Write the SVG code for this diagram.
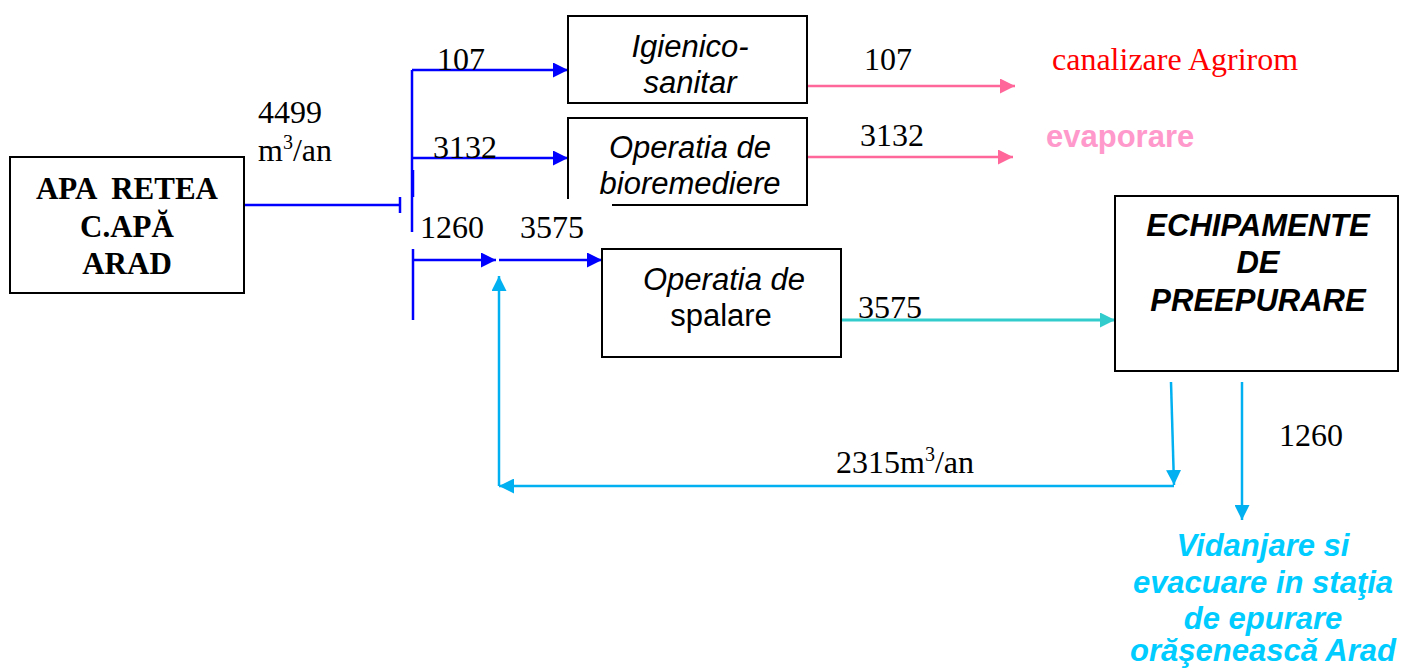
<svg xmlns="http://www.w3.org/2000/svg" width="1405" height="669" viewBox="0 0 1405 669">
  <style>
    .box { fill: #fff; stroke: #000; stroke-width: 2; }
    .num { font-family: "Liberation Serif", serif; font-size: 32px; fill: #000; }
    .sup { font-size: 20px; }
    .lbl { font-family: "Liberation Sans", Arial, sans-serif; font-size: 31px; font-style: italic; fill: #000; text-anchor: middle; }
    .up { font-style: normal; }
    .blue { stroke: #0000FF; stroke-width: 2.5; fill: none; }
    .cyan { stroke: #00B0F0; stroke-width: 2.5; fill: none; }
    .teal { stroke: #33CCCC; stroke-width: 3; fill: none; }
    .pink { stroke: #FF6699; stroke-width: 2.5; fill: none; }
  </style>
  <defs>
    <marker id="ab" viewBox="0 0 10 10" refX="10" refY="5" markerWidth="6" markerHeight="6" markerUnits="strokeWidth" orient="auto"><path d="M0,0 L10,5 L0,10 z" fill="#0000FF"/></marker>
    <marker id="ac" viewBox="0 0 10 10" refX="10" refY="5" markerWidth="6" markerHeight="6" markerUnits="strokeWidth" orient="auto"><path d="M0,0 L10,5 L0,10 z" fill="#00B0F0"/></marker>
    <marker id="at" viewBox="0 0 10 10" refX="10" refY="5" markerWidth="5" markerHeight="5" markerUnits="strokeWidth" orient="auto"><path d="M0,0 L10,5 L0,10 z" fill="#33CCCC"/></marker>
    <marker id="ap" viewBox="0 0 10 10" refX="10" refY="5" markerWidth="6" markerHeight="6" markerUnits="strokeWidth" orient="auto"><path d="M0,0 L10,5 L0,10 z" fill="#FF6699"/></marker>
  </defs>

  <g id="connectors">
    <!-- supply line into the splitter -->
    <line class="blue" x1="244" y1="205" x2="400" y2="205"/>
    <line class="blue" x1="400" y1="197" x2="400" y2="213"/>
    <line class="blue" x1="412" y1="70" x2="412" y2="232"/>
    <line class="blue" x1="413" y1="170" x2="413" y2="197"/>
    <line class="blue" x1="413" y1="249" x2="413" y2="320"/>
    <line class="blue" x1="412" y1="70" x2="568" y2="70" marker-end="url(#ab)"/>
    <line class="blue" x1="412" y1="158" x2="568" y2="158" marker-end="url(#ab)"/>
    <line class="blue" x1="413" y1="260" x2="496" y2="260" marker-end="url(#ab)"/>
    <line class="blue" x1="499" y1="260" x2="602" y2="260" marker-end="url(#ab)"/>
    <!-- outputs -->
    <line class="pink" x1="807" y1="86" x2="1015" y2="86" marker-end="url(#ap)"/>
    <line class="pink" x1="807" y1="157" x2="1013" y2="157" marker-end="url(#ap)"/>
    <line class="teal" x1="842" y1="320" x2="1115" y2="320" marker-end="url(#at)"/>
    <!-- recirculation loop -->
    <line class="cyan" x1="1171" y1="382" x2="1174" y2="485" marker-end="url(#ac)"/>
    <line class="cyan" x1="1174" y1="486" x2="499" y2="486" marker-end="url(#ac)"/>
    <line class="cyan" x1="499" y1="486" x2="499" y2="276" marker-end="url(#ac)"/>
    <line class="cyan" x1="1242" y1="382" x2="1242" y2="520" marker-end="url(#ac)"/>
  </g>

  <g id="apa-retea">
    <rect class="box" x="10" y="157" width="234" height="136"/>
    <g font-family="Liberation Serif, serif" font-weight="bold" font-size="31" text-anchor="middle">
      <text x="127" y="199" xml:space="preserve">APA  RETEA</text>
      <text x="127" y="237">C.APĂ</text>
      <text x="127" y="274">ARAD</text>
    </g>
  </g>

  <g id="igienico-sanitar">
    <rect class="box" x="568" y="16" width="239" height="87"/>
    <text class="lbl" x="690" y="57">Igienico-</text>
    <text class="lbl" x="690" y="93">sanitar</text>
  </g>

  <g id="bioremediere">
    <rect class="box" x="568" y="118" width="239" height="87"/>
    <text class="lbl" x="690" y="158">Operatia de</text>
    <text class="lbl" x="690" y="194">bioremediere</text>
  </g>

  <g id="spalare">
    <rect class="box" x="602" y="249" width="239" height="108"/>
    <text class="lbl" x="724" y="290">Operatia de</text>
    <text class="lbl up" x="721" y="326">spalare</text>
  </g>

  <g id="preepurare">
    <rect class="box" x="1115" y="196" width="283" height="175"/>
    <g font-family="Liberation Sans, Arial, sans-serif" font-weight="bold" font-style="italic" font-size="31" text-anchor="middle">
      <text x="1258" y="236">ECHIPAMENTE</text>
      <text x="1258" y="273">DE</text>
      <text x="1258" y="311">PREEPURARE</text>
    </g>
  </g>

  <!-- label strip for the branch quantities -->
  <g id="branch-labels">
    <rect x="414" y="199" width="198" height="48" fill="#fff"/>
    <text class="num" x="420" y="238">1260</text>
    <text class="num" x="520" y="238">3575</text>
  </g>

  <g id="quantities">
    <text class="num" x="258" y="123">4499</text>
    <text class="num" x="258" y="161">m<tspan class="sup" dy="-12">3</tspan><tspan dy="12">/an</tspan></text>
    <text class="num" x="437" y="70">107</text>
    <text class="num" x="433" y="158">3132</text>
    <text class="num" x="864" y="70">107</text>
    <text class="num" x="860" y="146">3132</text>
    <text class="num" x="858" y="318">3575</text>
    <text class="num" x="836" y="473">2315m<tspan class="sup" dy="-12">3</tspan><tspan dy="12">/an</tspan></text>
    <text class="num" x="1279" y="446">1260</text>
  </g>

  <g id="destinations">
    <text x="1052" y="70" font-family="Liberation Serif, serif" font-size="32" fill="#FF0000">canalizare Agrirom</text>
    <text x="1046" y="147" font-family="Liberation Sans, Arial, sans-serif" font-size="31" font-weight="bold" fill="#FF99CC">evaporare</text>
    <g font-family="Liberation Sans, Arial, sans-serif" font-weight="bold" font-style="italic" font-size="31" fill="#00CCFF" text-anchor="middle">
      <text x="1263" y="556">Vidanjare si</text>
      <text x="1263" y="593">evacuare in staţia</text>
      <text x="1263" y="629">de epurare</text>
      <text x="1263" y="661">orăşenească Arad</text>
    </g>
  </g>
</svg>
